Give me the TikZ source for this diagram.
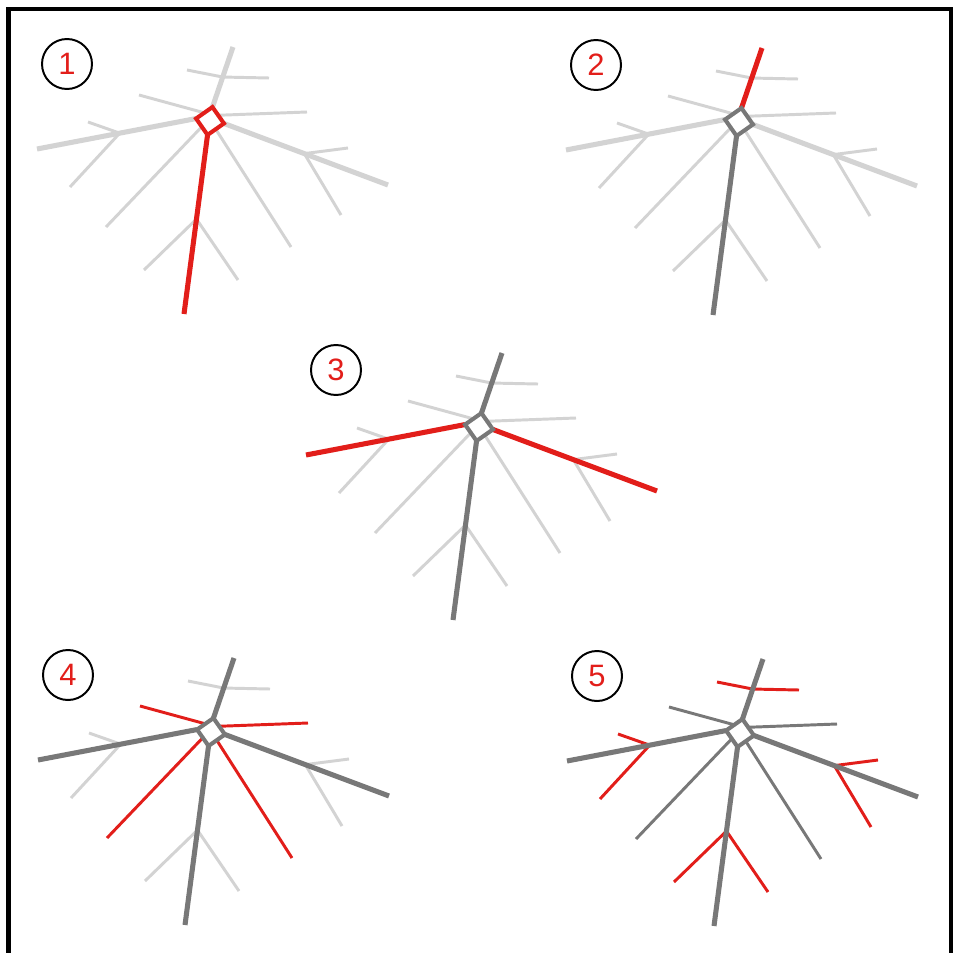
\documentclass[tikz,border=0pt]{standalone}
\usepackage{fontspec}
\setmainfont{Liberation Sans}
\usepackage{xcolor}
\usetikzlibrary{calc}
\definecolor{tlight}{RGB}{211, 211, 211}
\definecolor{tdark}{RGB}{120, 120, 120}
\definecolor{tred}{RGB}{226, 30, 26}

\tikzset{
  mainbranch/.style={line width=3.6pt},
  sidebranch/.style={line width=2.1pt},
  twig/.style={line width=2.1pt},
  hubshape/.style={rectangle, rotate=35, minimum size=0.5cm, inner sep=0pt, outer sep=0pt},
  hubbox/.style={hubshape, draw, fill=white, line width=2.9pt},
  stepnum/.style={circle, draw, line width=1.4pt, minimum size=1.25cm, inner sep=0pt,
    text=tred, font=\fontsize{22}{26}\selectfont},
}

% #1 centre, #2 step, #3 hub, #4 down, #5 up, #6 left/right, #7 thin branches, #8 twigs
\newcommand{\treepanel}[8]{%
  \begin{scope}[shift={(#1)}]
    \node[hubshape] (hub#2) at (0,0) {};
    \coordinate (dn#2) at (-26,193);
    \coordinate (up#2) at (23,-74);
    \coordinate (lt#2) at (-173,28);
    \coordinate (rt#2) at (178,64);
    \coordinate (dnf#2) at ($(hub#2.south west)!.47!(dn#2)$);
    \coordinate (upf#2) at ($(hub#2.north east)!.5!(up#2)$);
    \coordinate (ltf#2) at ($(hub#2.north west)!.48!(lt#2)$);
    \coordinate (rtf#2) at ($(hub#2.south east)!.49!(rt#2)$);
    % twigs
    \draw[twig, #8] (dnf#2) -- (-66,149);
    \draw[twig, #8] (dnf#2) -- (28,159);
    \draw[twig, #8] (upf#2) -- (-23,-51);
    \draw[twig, #8] (upf#2) -- (59,-43);
    \draw[twig, #8] (ltf#2) -- (-122,1);
    \draw[twig, #8] (ltf#2) -- (-140,66);
    \draw[twig, #8] (rtf#2) -- (138,27);
    \draw[twig, #8] (rtf#2) -- (131,94);
    % thin branches
    \draw[sidebranch, #7] (hub#2.north) -- (-71,-26);
    \draw[sidebranch, #7] (hub#2.east) -- (97,-9);
    \draw[sidebranch, #7] (hub#2.west) -- (-104,106);
    \draw[sidebranch, #7] (hub#2.south) -- (81,126);
    % main branches
    \draw[mainbranch, #6] (hub#2.north west) -- (lt#2);
    \draw[mainbranch, #6] (hub#2.south east) -- (rt#2);
    \draw[mainbranch, #5] (hub#2.north east) -- (up#2);
    \draw[mainbranch, #4] (hub#2.south west) -- (dn#2);
    \node[hubbox, draw=#3] (hubtop#2) at (hub#2) {};
    \node[stepnum] (num#2) at (-143,-57) {#2};
  \end{scope}}

\begin{document}
\begin{tikzpicture}[x=0.025cm, y=-0.025cm]
    \useasboundingbox (0,0) rectangle (960,953);
    \draw[line width=3.5pt] (8.5,970) -- (8.5,9) -- (951,9) -- (951,970);

    % --- step 1 ---
    \treepanel{210,121}{1}{tred}{tred}{tlight}{tlight}{tlight}{tlight}
    % --- step 2 ---
    \treepanel{739,122}{2}{tdark}{tdark}{tred}{tlight}{tlight}{tlight}
    % --- step 3 ---
    \treepanel{479,427}{3}{tdark}{tdark}{tdark}{tred}{tlight}{tlight}
    % --- step 4 ---
    \treepanel{211,732}{4}{tdark}{tdark}{tdark}{tdark}{tred}{tlight}
    % --- step 5 ---
    \treepanel{740,733}{5}{tdark}{tdark}{tdark}{tdark}{tdark}{tred}
\end{tikzpicture}
\end{document}
